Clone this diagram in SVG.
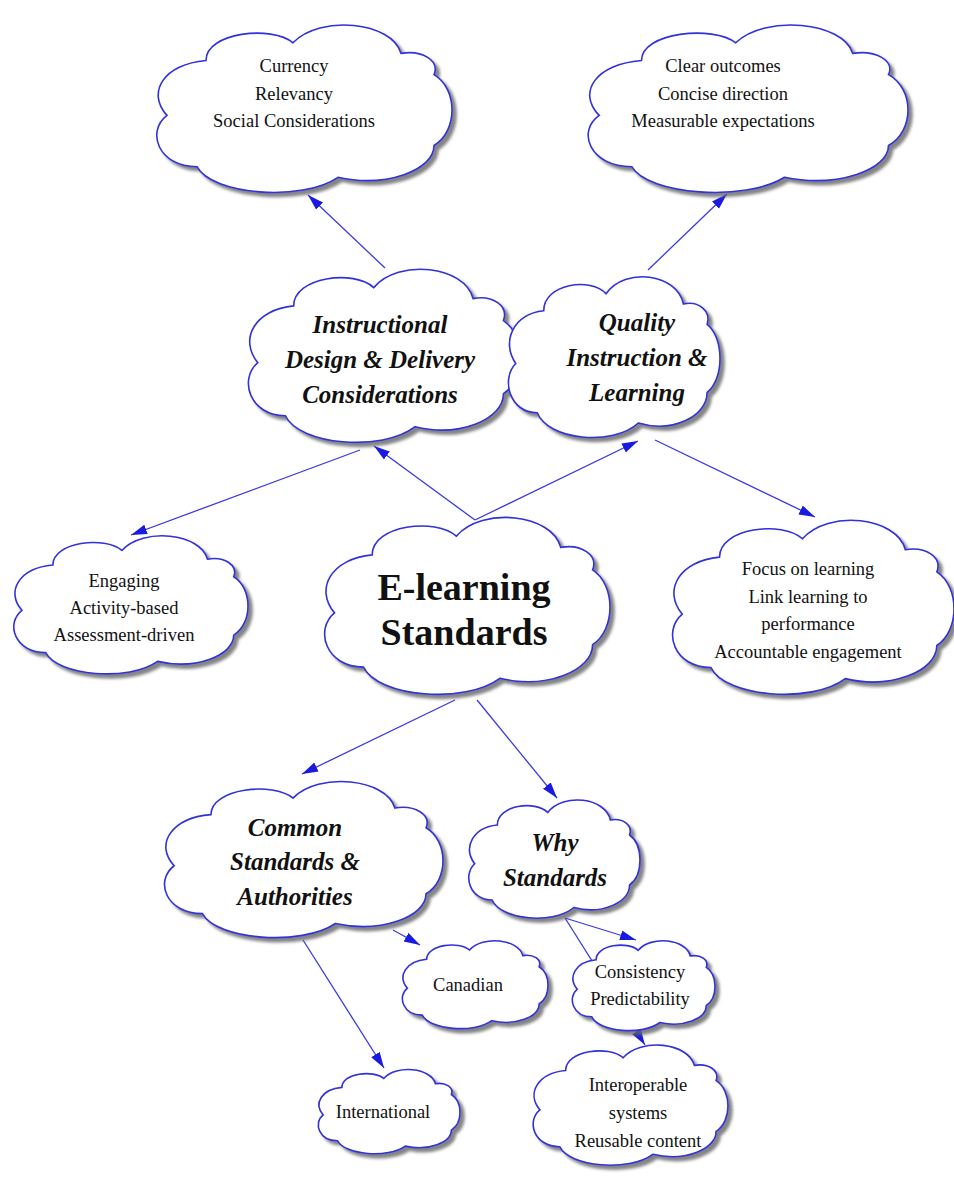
<svg xmlns="http://www.w3.org/2000/svg" xmlns:xlink="http://www.w3.org/1999/xlink" width="954" height="1179" viewBox="0 0 954 1179">
<style>
.cl{fill:#fff;stroke:#3030d8;stroke-width:1.6}
.t{font-family:"Liberation Serif","Times New Roman",serif;font-size:18.5px;fill:#111;text-anchor:middle}
.b{font-family:"Liberation Serif","Times New Roman",serif;font-size:25px;font-weight:bold;font-style:italic;fill:#111;text-anchor:middle}
.big{font-family:"Liberation Serif","Times New Roman",serif;font-size:38px;font-weight:bold;fill:#111;text-anchor:middle}
.ln{stroke:#3a3ae0;stroke-width:1.3;fill:none;marker-end:url(#ar)}
</style>
<defs>
<path id="cloud" vector-effect="non-scaling-stroke" d="M18,24 C18,8 40,4 47,14 C56,-2 80,2 83,20 C90,18 96,24 94,32 C102,40 102,64 94,72 C94,86 78,96 62,90 C50,104 20,100 15,84 C2,84 -2,64 5,55 C-2,42 4,26 18,24 Z"/>
<filter id="sh" x="-10%" y="-10%" width="125%" height="130%">
<feDropShadow dx="4" dy="4" stdDeviation="1.5" flood-color="#666" flood-opacity="0.8"/>
</filter>
<marker id="ar" markerUnits="userSpaceOnUse" markerWidth="18" markerHeight="12" refX="16" refY="5" orient="auto">
<path d="M0,0 L16,5 L0,10 Z" fill="#1a1ae0"/>
</marker>
</defs>
<g id="connectors">
<line class="ln" x1="385" y1="268" x2="308" y2="195"/>
<line class="ln" x1="648" y1="270" x2="727" y2="194"/>
<line class="ln" x1="475" y1="520" x2="374" y2="446"/>
<line class="ln" x1="475" y1="520" x2="638" y2="441"/>
<line class="ln" x1="360" y1="450" x2="131" y2="535"/>
<line class="ln" x1="655" y1="440" x2="815" y2="517"/>
<line class="ln" x1="455" y1="700" x2="302" y2="774"/>
<line class="ln" x1="477" y1="700" x2="557" y2="798"/>
<line class="ln" x1="393" y1="930" x2="420" y2="945"/>
<line class="ln" x1="303" y1="940" x2="384" y2="1068"/>
<line class="ln" x1="565" y1="918" x2="636" y2="940"/>
<line class="ln" x1="565" y1="918" x2="645" y2="1045"/>
</g>
<g id="n-currency">
<g filter="url(#sh)"><use xlink:href="#cloud" class="cl" transform="translate(152,18) scale(3,1.77)"/></g>
<text class="t" x="294" y="72">Currency</text>
<text class="t" x="294" y="100">Relevancy</text>
<text class="t" x="294" y="127">Social Considerations</text>
</g>
<g id="n-clear">
<g filter="url(#sh)"><use xlink:href="#cloud" class="cl" transform="translate(583,18) scale(3.25,1.77)"/></g>
<text class="t" x="723" y="72">Clear outcomes</text>
<text class="t" x="723" y="100">Concise direction</text>
<text class="t" x="723" y="127">Measurable expectations</text>
</g>
<g id="n-instructional">
<g filter="url(#sh)"><use xlink:href="#cloud" class="cl" transform="translate(244,262) scale(2.76,1.83)"/></g>
<text class="b" x="380" y="333">Instructional</text>
<text class="b" x="380" y="368">Design &amp; Delivery</text>
<text class="b" x="380" y="403">Considerations</text>
</g>
<g id="n-quality">
<g filter="url(#sh)"><use xlink:href="#cloud" class="cl" transform="translate(505,270) scale(2.15,1.7)"/></g>
<text class="b" x="637" y="331">Quality</text>
<text class="b" x="637" y="366">Instruction &amp;</text>
<text class="b" x="637" y="401">Learning</text>
</g>
<g id="n-engaging">
<g filter="url(#sh)"><use xlink:href="#cloud" class="cl" transform="translate(10,530) scale(2.38,1.46)"/></g>
<text class="t" x="124" y="587">Engaging</text>
<text class="t" x="124" y="614">Activity-based</text>
<text class="t" x="124" y="641">Assessment-driven</text>
</g>
<g id="n-elearning">
<g filter="url(#sh)"><use xlink:href="#cloud" class="cl" transform="translate(320,510) scale(2.9,1.87)"/></g>
<text class="big" x="464" y="600">E-learning</text>
<text class="big" x="464" y="645">Standards</text>
</g>
<g id="n-focus">
<g filter="url(#sh)"><use xlink:href="#cloud" class="cl" transform="translate(668,513) scale(2.86,1.84)"/></g>
<text class="t" x="808" y="575">Focus on learning</text>
<text class="t" x="808" y="603">Link learning to</text>
<text class="t" x="808" y="630">performance</text>
<text class="t" x="808" y="658">Accountable engagement</text>
</g>
<g id="n-common">
<g filter="url(#sh)"><use xlink:href="#cloud" class="cl" transform="translate(160,775) scale(2.83,1.65)"/></g>
<text class="b" x="295" y="836">Common</text>
<text class="b" x="295" y="870">Standards &amp;</text>
<text class="b" x="295" y="905">Authorities</text>
</g>
<g id="n-why">
<g filter="url(#sh)"><use xlink:href="#cloud" class="cl" transform="translate(466,795) scale(1.74,1.25)"/></g>
<text class="b" x="555" y="851">Why</text>
<text class="b" x="555" y="886">Standards</text>
</g>
<g id="n-canadian">
<g filter="url(#sh)"><use xlink:href="#cloud" class="cl" transform="translate(400,937) scale(1.48,0.93)"/></g>
<text class="t" x="468" y="991">Canadian</text>
</g>
<g id="n-consistency">
<g filter="url(#sh)"><use xlink:href="#cloud" class="cl" transform="translate(570,937) scale(1.45,0.95)"/></g>
<text class="t" x="640" y="978">Consistency</text>
<text class="t" x="640" y="1005">Predictability</text>
</g>
<g id="n-international">
<g filter="url(#sh)"><use xlink:href="#cloud" class="cl" transform="translate(316,1066) scale(1.44,0.89)"/></g>
<text class="t" x="383" y="1118">International</text>
</g>
<g id="n-interoperable">
<g filter="url(#sh)"><use xlink:href="#cloud" class="cl" transform="translate(530,1040) scale(1.98,1.27)"/></g>
<text class="t" x="638" y="1091">Interoperable</text>
<text class="t" x="638" y="1119">systems</text>
<text class="t" x="638" y="1147">Reusable content</text>
</g>
</svg>
